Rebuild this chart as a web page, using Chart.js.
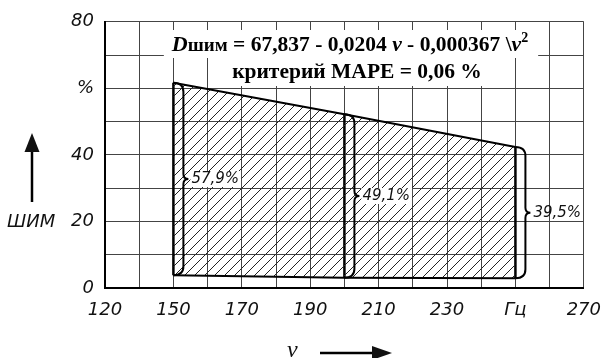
<!DOCTYPE html>
<html lang="ru">
<head>
    <meta charset="UTF-8">
    <title>ШИМ</title>
    <script src="https://cdn.jsdelivr.net/npm/chart.js"></script>
    <style>
        html, body { margin: 0; padding: 0; background: #fff; }
        #wrap { width: 613px; height: 358px; }
    </style>
</head>
<body>
    <div id="wrap"><canvas id="pwmChart" width="613" height="358"></canvas></div>

    <script>
        // frequency points where the band is measured, Hz
        const freqMarks = [150, 200, 250];
        // lower edge of the band, %
        const lowerBound = [3.8, 3.1, 2.9];
        // band width at each frequency, %
        const bandSpread = [57.9, 49.1, 39.5];

        const xTickValues = [130, 150, 170, 190, 210, 230, 250, 270];
        const xTickLabels = ['120', '150', '170', '190', '210', '230', 'Гц', '270'];
        const yTickValues = [0, 20, 40, 60, 80];
        const yTickLabels = ['0', '20', '40', '%', '80'];

        const upperBound = lowerBound.map((v, i) => +(v + bandSpread[i]).toFixed(1));

        const tickFont = { family: '"DejaVu Sans", sans-serif', size: 18, style: 'oblique' };

        // diagonal hatch
        function makeHatch() {
            const c = document.createElement('canvas');
            c.width = 10; c.height = 10;
            const g = c.getContext('2d');
            g.strokeStyle = '#222';
            g.lineWidth = 1;
            g.beginPath();
            g.moveTo(0, 10); g.lineTo(10, 0);
            g.moveTo(-1, 1); g.lineTo(1, -1);
            g.moveTo(9, 11); g.lineTo(11, 9);
            g.stroke();
            return g.createPattern(c, 'repeat');
        }

        const ctx = document.getElementById('pwmChart').getContext('2d');

        const edgeLine = { borderColor: '#000', borderWidth: 2, pointRadius: 0, tension: 0 };

        const datasets = [
            Object.assign({ data: freqMarks.map((f, i) => ({ x: f, y: lowerBound[i] })), fill: false }, edgeLine),
            Object.assign({
                data: freqMarks.map((f, i) => ({ x: f, y: upperBound[i] })),
                fill: { target: 0 },
                backgroundColor: makeHatch()
            }, edgeLine)
        ];
        freqMarks.forEach((f, i) => {
            datasets.push({
                data: [{ x: f, y: lowerBound[i] }, { x: f, y: upperBound[i] }],
                borderColor: '#000', borderWidth: 2.5, pointRadius: 0, fill: false
            });
        });

        // braces with the band width next to each vertical
        const braces = {
            id: 'braces',
            afterDatasetsDraw(chart) {
                const c = chart.ctx, xs = chart.scales.x, ys = chart.scales.y;
                c.save();
                freqMarks.forEach((f, i) => {
                    const x = xs.getPixelForValue(f);
                    const bx = x + 10;
                    const yt = ys.getPixelForValue(upperBound[i]);
                    const yb = ys.getPixelForValue(lowerBound[i]);
                    const ym = (yt + yb) / 2;
                    c.strokeStyle = '#000';
                    c.lineWidth = 2;
                    c.beginPath();
                    c.moveTo(x, yt);
                    c.quadraticCurveTo(bx, yt, bx, yt + 9);
                    c.lineTo(bx, ym - 5);
                    c.quadraticCurveTo(bx, ym, bx + 5, ym);
                    c.quadraticCurveTo(bx, ym, bx, ym + 5);
                    c.lineTo(bx, yb - 9);
                    c.quadraticCurveTo(bx, yb, x, yb);
                    c.stroke();

                    const txt = bandSpread[i].toFixed(1).replace('.', ',') + '%';
                    c.font = 'oblique 15px "DejaVu Sans", sans-serif';
                    c.textBaseline = 'middle';
                    c.textAlign = 'left';
                    const w = c.measureText(txt).width;
                    if (i < freqMarks.length - 1) {
                        c.fillStyle = '#fff';
                        c.fillRect(bx + 7, ym - 8, w + 3, 16);
                    }
                    c.fillStyle = '#111';
                    c.fillText(txt, bx + 8, ym);
                });
                c.restore();
            }
        };

        // formula block, axis names and arrows
        function drawRuns(c, runs, x, y) {
            runs.forEach(r => {
                c.font = r[1];
                c.fillText(r[0], x, y + (r[2] || 0));
                x += c.measureText(r[0]).width;
            });
        }
        function runsWidth(c, runs) {
            return runs.reduce((s, r) => { c.font = r[1]; return s + c.measureText(r[0]).width; }, 0);
        }

        const notes = {
            id: 'notes',
            afterDraw(chart) {
                const c = chart.ctx;
                const serif = '"Liberation Serif", "Times New Roman", serif';
                const line1 = [
                    ['D', 'italic bold 22px ' + serif],
                    ['шим', 'bold 19px ' + serif],
                    [' = 67,837 - 0,0204 ', 'bold 21.5px ' + serif],
                    ['ν', 'italic bold 21.5px ' + serif],
                    [' - 0,000367 \\', 'bold 21.5px ' + serif],
                    ['ν', 'italic bold 21.5px ' + serif],
                    ['2', 'bold 14px ' + serif, -9]
                ];
                const line2 = [['критерий MAPE = 0,06 %', 'bold 21.5px ' + serif]];
                c.save();
                c.textBaseline = 'alphabetic';
                c.textAlign = 'left';
                const w1 = runsWidth(c, line1), w2 = runsWidth(c, line2);
                const x1 = 350 - w1 / 2, x2 = 357 - w2 / 2;
                c.fillStyle = '#fff';
                c.fillRect(x1 - 8, 30, w1 + 18, 28);
                c.fillRect(x2 - 5, 57, w2 + 8, 29);
                c.fillStyle = '#000';
                drawRuns(c, line1, x1, 51);
                drawRuns(c, line2, x2, 78);

                // y axis name with arrow
                c.font = 'oblique 18px "DejaVu Sans", sans-serif';
                c.textBaseline = 'middle';
                c.fillStyle = '#111';
                c.fillText('ШИМ', 7, 222);
                c.strokeStyle = '#000';
                c.lineWidth = 2.5;
                c.beginPath();
                c.moveTo(32, 202); c.lineTo(32, 150);
                c.stroke();
                c.beginPath();
                c.moveTo(32, 133); c.lineTo(24.5, 152); c.lineTo(39.5, 152);
                c.closePath(); c.fill();

                // x axis name with arrow
                c.font = 'italic 24px ' + serif;
                c.textBaseline = 'alphabetic';
                c.fillText('ν', 287, 357);
                c.beginPath();
                c.moveTo(320, 353); c.lineTo(376, 353);
                c.stroke();
                c.beginPath();
                c.moveTo(392, 353); c.lineTo(372, 346); c.lineTo(372, 360);
                c.closePath(); c.fill();
                c.restore();
            }
        };

        new Chart(ctx, {
            type: 'line',
            data: { datasets },
            plugins: [braces, notes],
            options: {
                responsive: false,
                animation: false,
                events: [],
                layout: { padding: { top: 20, right: 21, bottom: 0, left: 0 } },
                plugins: { legend: { display: false }, tooltip: { enabled: false } },
                scales: {
                    x: {
                        type: 'linear',
                        min: 130, max: 270,
                        afterFit: s => { s.height = 70; },
                        afterBuildTicks: s => {
                            s.ticks = [];
                            for (let v = 130; v <= 270; v += 10) s.ticks.push({ value: v });
                        },
                        grid: { color: '#444', lineWidth: 1, drawTicks: false },
                        border: { color: '#000', width: 2 },
                        ticks: {
                            autoSkip: false,
                            maxRotation: 0,
                            padding: 12,
                            color: '#111',
                            font: tickFont,
                            callback: v => {
                                const k = xTickValues.indexOf(v);
                                return k < 0 ? '' : xTickLabels[k];
                            }
                        }
                    },
                    y: {
                        min: 0, max: 80,
                        afterFit: s => { s.width = 105; },
                        grid: { color: '#444', lineWidth: 1, drawTicks: false },
                        border: { color: '#000', width: 2 },
                        ticks: {
                            stepSize: 10,
                            padding: 11,
                            color: '#111',
                            font: tickFont,
                            callback: v => {
                                const k = yTickValues.indexOf(v);
                                return k < 0 ? '' : yTickLabels[k];
                            }
                        }
                    }
                }
            }
        });
    </script>
</body>
</html>
